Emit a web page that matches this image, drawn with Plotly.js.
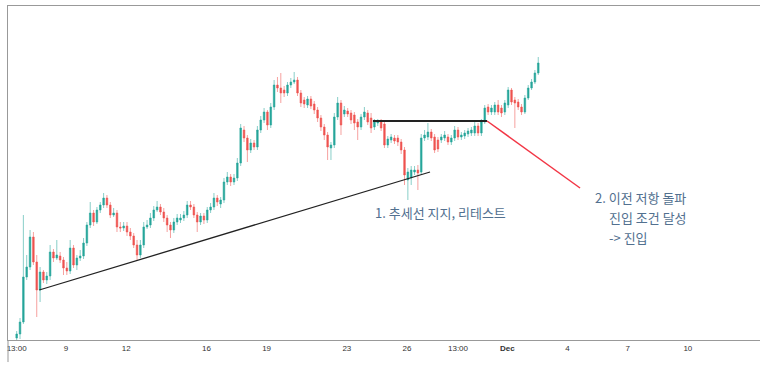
<!DOCTYPE html>
<html>
<head>
<meta charset="utf-8">
<script src="https://cdn.plot.ly/plotly-3.0.1.min.js"></script>
<style>html,body{margin:0;padding:0;background:#fff;}#chart{width:773px;height:365px;}</style>
</head>
<body>
<div id="chart"></div>
<script>
// 4h candles, first bar 2023-11-06 13:00
const startTime = Date.UTC(2023, 10, 6, 13, 0);
const stepHours = 4;

const open = [2,6,18,63,73,103,78,50,68,60,64,88,82,84,80,72,69,92,75,82,84,97,115,127,118,130,135,142,135,125,127,113,112,114,108,104,95,85,95,113,115,122,130,133,128,122,115,110,118,120,122,125,135,133,125,118,124,120,130,133,142,136,140,158,163,158,162,177,210,202,190,197,193,210,220,228,215,233,255,252,250,247,255,258,260,247,240,235,241,236,230,222,213,205,192,195,223,237,226,229,227,225,218,213,223,227,222,213,217,218,216,195,200,202,202,198,190,160,162,168,170,168,202,203,208,203,200,200,202,203,198,202,210,203,204,206,207,207,214,207,218,233,228,228,235,232,228,235,250,240,238,233,228,242,252,258,267];
const high = [9,22,125,85,110,108,85,73,70,68,95,91,100,88,83,78,100,95,85,90,102,118,138,130,133,138,147,145,138,132,130,118,118,118,112,107,100,100,118,120,127,134,139,136,132,125,118,122,126,126,129,139,139,136,128,127,127,133,137,147,145,143,162,168,166,166,182,216,214,205,201,200,214,224,232,230,237,260,263,267,254,258,262,268,263,250,243,244,244,239,233,225,216,208,198,227,243,240,234,232,230,228,221,226,233,230,227,221,221,221,219,204,206,205,205,201,193,172,174,174,175,206,210,217,211,206,203,206,209,206,205,214,213,208,210,212,213,218,217,221,235,236,235,238,240,235,240,253,252,243,241,236,245,255,261,270,283];
const low = [0,1,16,60,70,75,23,38,57,56,60,78,80,77,65,65,66,72,70,79,81,94,112,114,116,127,132,132,122,123,108,108,109,104,100,92,80,82,92,111,112,119,128,125,118,108,102,107,115,117,119,122,130,122,108,115,116,117,127,130,134,132,137,155,154,155,159,174,198,178,187,190,190,207,217,210,212,230,248,237,243,244,252,256,244,233,232,232,231,226,218,209,200,180,180,192,220,205,223,223,216,210,200,210,220,215,207,210,214,209,192,192,197,196,194,186,155,140,155,165,150,165,199,200,199,187,188,197,199,195,195,199,200,200,201,203,204,204,204,204,216,225,225,225,225,223,225,232,235,212,230,225,226,240,250,256,265];
const close = [6,18,63,73,103,78,50,68,60,64,88,82,85,80,72,69,92,75,82,84,97,115,127,118,130,135,142,135,125,127,113,112,114,108,104,95,85,95,113,115,122,130,133,128,122,115,110,118,122,122,125,135,133,125,118,124,120,130,133,142,138,140,158,163,158,162,177,212,202,190,197,193,210,220,228,215,233,255,252,247,247,255,258,260,247,237,236,241,234,230,222,213,205,193,195,223,237,215,230,226,220,217,213,223,228,218,212,218,218,212,195,201,203,199,198,190,165,168,170,170,167,202,205,208,202,190,191,203,205,198,202,210,203,205,207,209,210,214,207,218,232,228,232,235,228,227,237,250,238,237,233,228,242,252,258,267,277];

const tickVals = ['2023-11-06 13:00','2023-11-09','2023-11-12','2023-11-16','2023-11-19','2023-11-23','2023-11-26','2023-11-28 13:00','2023-12-01','2023-12-04','2023-12-07','2023-12-10'];
const tickText = ['13:00','9','12','16','19','23','26','13:00','<b>Dec</b>','4','7','10'];

const trendLine = {x: ['2023-11-07 16:00','2023-11-27 03:30'], y: [50, 168]};
const resistance = {x: ['2023-11-24 07:15','2023-11-29 23:45'], y: [219, 219]};
const breakPointer = {x: ['2023-11-29 23:45','2023-12-04 15:00'], y: [219, 152]};

const label1 = '1. 추세선 지지, 리테스트';
const label2 = ['2. 이전 저항 돌파', '진입 조건 달성', '-> 진입'];

function fmt(ms){
  const d = new Date(ms);
  const p = n => String(n).padStart(2,'0');
  return d.getUTCFullYear()+'-'+p(d.getUTCMonth()+1)+'-'+p(d.getUTCDate())+' '+p(d.getUTCHours())+':'+p(d.getUTCMinutes());
}
const times = close.map((_, i) => fmt(startTime + i*stepHours*3600*1000));

const trace = {
  type: 'candlestick',
  x: times, open: open, high: high, low: low, close: close,
  increasing: {line: {color: 'rgba(38,166,154,0.55)', width: 1}, fillcolor: '#26a69a'},
  decreasing: {line: {color: 'rgba(239,83,80,0.55)', width: 1}, fillcolor: '#ef5350'},
  whiskerwidth: 0,
  hoverinfo: 'skip',
  showlegend: false
};

const txtFont = {family: 'Noto Sans CJK KR, Noto Sans, sans-serif', size: 13, color: '#52708f'};

const layout = {
  width: 773, height: 365,
  margin: {l: 8, r: 13, t: 6, b: 25},
  paper_bgcolor: '#ffffff', plot_bgcolor: '#ffffff',
  showlegend: false,
  boxgap: 0.3,
  xaxis: {
    type: 'date',
    range: ['2023-11-06 02:37', '2023-12-13 14:18'],
    rangeslider: {visible: false},
    tickmode: 'array', tickvals: tickVals, ticktext: tickText,
    tickfont: {family: 'Liberation Sans, Arial, sans-serif', size: 8, color: '#333'},
    showgrid: false, zeroline: false,
    showline: true, linecolor: '#999', linewidth: 1, mirror: true,
    ticks: '', fixedrange: true
  },
  yaxis: {
    range: [0, 334],
    showgrid: false, zeroline: false,
    showline: true, linecolor: '#999', linewidth: 1,
    showticklabels: false, ticks: '', fixedrange: true
  },
  shapes: [
    {type: 'line', xref: 'x', yref: 'y', x0: trendLine.x[0], y0: trendLine.y[0], x1: trendLine.x[1], y1: trendLine.y[1], line: {color: '#222', width: 1.3}},
    {type: 'line', xref: 'x', yref: 'y', x0: resistance.x[0], y0: resistance.y[0], x1: resistance.x[1], y1: resistance.y[1], line: {color: '#222', width: 2}},
    {type: 'line', xref: 'x', yref: 'y', x0: breakPointer.x[0], y0: breakPointer.y[0], x1: breakPointer.x[1], y1: breakPointer.y[1], line: {color: '#f23645', width: 1.5}},
    {type: 'line', xref: 'paper', yref: 'paper', x0: 0, y0: 0, x1: 0, y1: -0.066, line: {color: '#999', width: 1}}
  ],
  annotations: [
    {xref: 'x', yref: 'y', x: '2023-11-27 16:30', y: 128, text: label1, showarrow: false, xanchor: 'center', yanchor: 'middle', font: txtFont},
    {xref: 'x', yref: 'y', x: '2023-12-05 06:40', y: 143, text: label2[0], showarrow: false, xanchor: 'left', yanchor: 'middle', font: txtFont},
    {xref: 'x', yref: 'y', x: '2023-12-05 23:20', y: 123, text: label2[1], showarrow: false, xanchor: 'left', yanchor: 'middle', font: txtFont},
    {xref: 'x', yref: 'y', x: '2023-12-05 23:20', y: 103, text: label2[2], showarrow: false, xanchor: 'left', yanchor: 'middle', font: txtFont}
  ]
};

Plotly.newPlot('chart', [trace], layout, {displayModeBar: false, staticPlot: true});
</script>
</body>
</html>
